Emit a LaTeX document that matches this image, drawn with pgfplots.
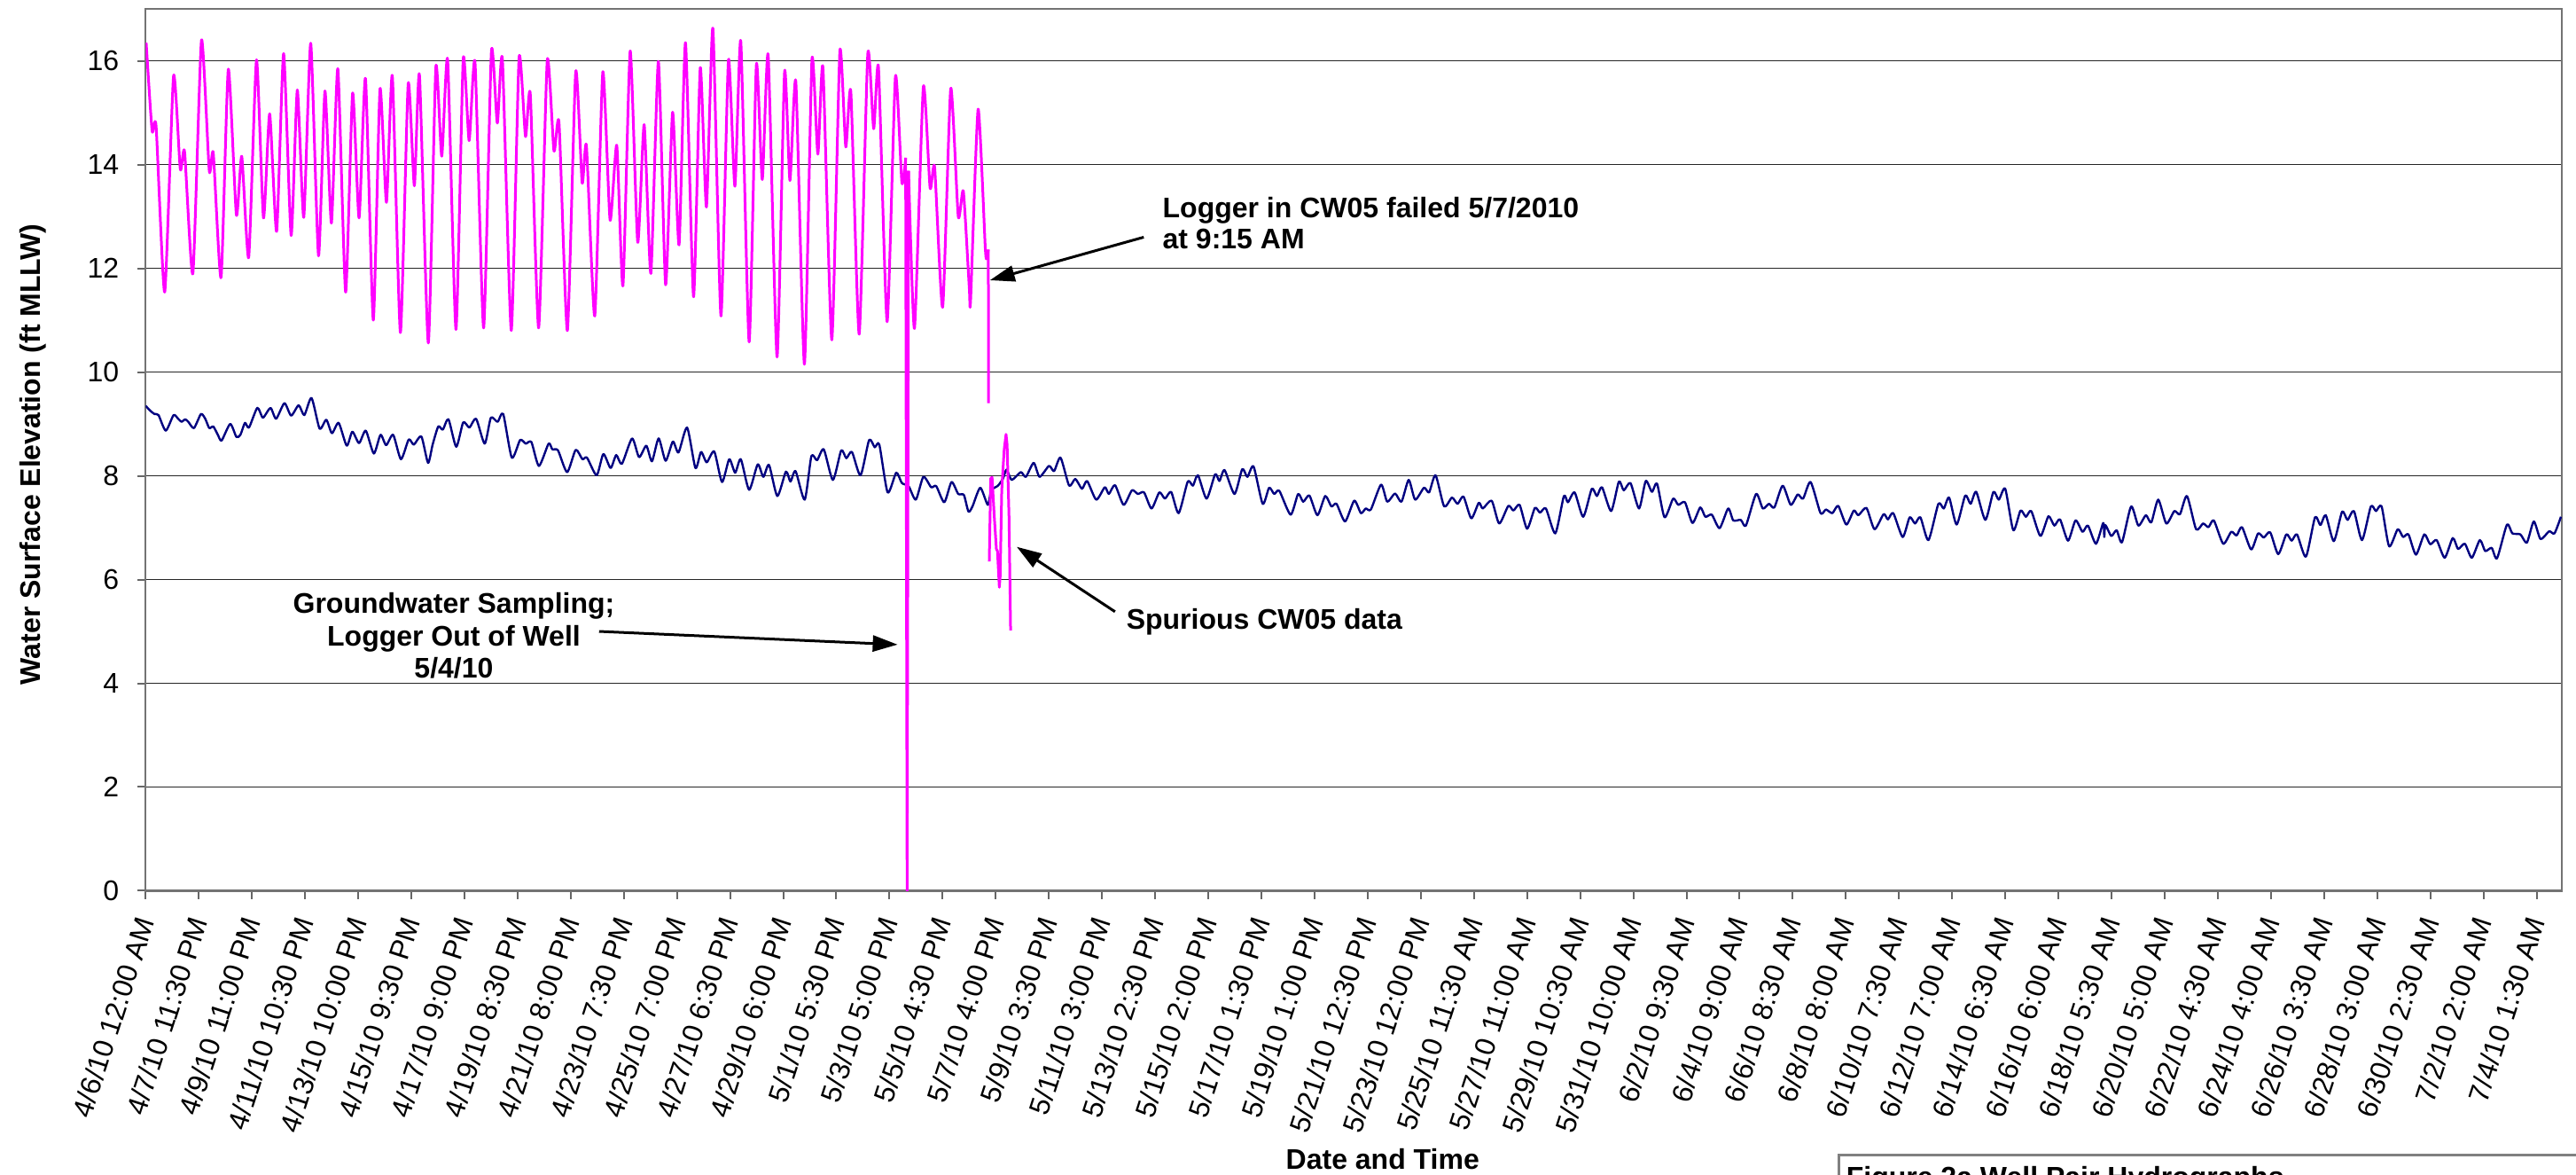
\documentclass[border=0pt]{standalone}
\usepackage{pgfplots}
\pgfplotsset{compat=1.18}
\usepackage{fontspec}
\setmainfont{Liberation Sans}
\usetikzlibrary{arrows.meta}
\definecolor{cwmag}{RGB}{255,0,255}
\definecolor{cwnavy}{RGB}{0,0,128}
\newcommand\lab{\fontsize{8}{9}\selectfont}
\begin{document}
\begin{tikzpicture}
\useasboundingbox (0,0) rectangle (726.5pt,331.25pt);
\clip (0,0) rectangle (726.5pt,331.25pt);
\begin{axis}[
  at={(41.075pt,80.125pt)}, anchor=south west,
  scale only axis, width=681.4pt, height=248.6pt,
  xmin=0, xmax=90, ymin=0, ymax=17,
  axis line style={draw=black!55, line width=0.6pt},
  ytick={0,2,...,16},
  xtick={0,1.9792,3.9583,5.9375,7.9167,9.8958,11.875,13.8542,15.8333,17.8125,19.7917,21.7708,23.75,25.7292,27.7083,29.6875,31.6667,33.6458,35.625,37.6042,39.5833,41.5625,43.5417,45.5208,47.5,49.4792,51.4583,53.4375,55.4167,57.3958,59.375,61.3542,63.3333,65.3125,67.2917,69.2708,71.25,73.2292,75.2083,77.1875,79.1667,81.1458,83.125,85.1042,87.0833,89.0625},
  xticklabels={4/6/10 12:00 AM,4/7/10 11:30 PM,4/9/10 11:00 PM,4/11/10 10:30 PM,4/13/10 10:00 PM,4/15/10 9:30 PM,4/17/10 9:00 PM,4/19/10 8:30 PM,4/21/10 8:00 PM,4/23/10 7:30 PM,4/25/10 7:00 PM,4/27/10 6:30 PM,4/29/10 6:00 PM,5/1/10 5:30 PM,5/3/10 5:00 PM,5/5/10 4:30 PM,5/7/10 4:00 PM,5/9/10 3:30 PM,5/11/10 3:00 PM,5/13/10 2:30 PM,5/15/10 2:00 PM,5/17/10 1:30 PM,5/19/10 1:00 PM,5/21/10 12:30 PM,5/23/10 12:00 PM,5/25/10 11:30 AM,5/27/10 11:00 AM,5/29/10 10:30 AM,5/31/10 10:00 AM,6/2/10 9:30 AM,6/4/10 9:00 AM,6/6/10 8:30 AM,6/8/10 8:00 AM,6/10/10 7:30 AM,6/12/10 7:00 AM,6/14/10 6:30 AM,6/16/10 6:00 AM,6/18/10 5:30 AM,6/20/10 5:00 AM,6/22/10 4:30 AM,6/24/10 4:00 AM,6/26/10 3:30 AM,6/28/10 3:00 AM,6/30/10 2:30 AM,7/2/10 2:00 AM,7/4/10 1:30 AM},
  tick pos=left, tick align=outside, major tick length=2.3pt,
  tick style={black!60, line width=0.5pt},
  xticklabel style={font=\lab, rotate=72, anchor=east, inner sep=0pt},
  xticklabel shift=5.2pt,
  yticklabel style={font=\lab, inner sep=0pt},
  yticklabel shift=5pt,
  /pgf/number format/assume math mode=true,
  ymajorgrids, major grid style={black!85, line width=0.4pt},
  xlabel={Date and Time},
  ylabel={Water Surface Elevation (ft MLLW)},
  xlabel style={at={(axis description cs:0.512,-0.304)}, anchor=center, font=\bfseries\lab},
  ylabel style={at={(axis description cs:-0.0467,0.495)}, anchor=center, font=\bfseries\lab},
]
% CW (navy) series
\addplot[cwnavy, line width=0.6pt, line join=round, smooth, tension=0.4] coordinates {
(0,9.35)(0.16,9.26)(0.33,9.19)(0.48,9.17)(0.75,8.87)(1.04,9.17)(1.21,9.10)(1.34,9.04)(1.47,9.09)(1.59,9.04)
(1.80,8.92)(2.06,9.19)(2.22,9.10)(2.37,8.92)(2.52,8.95)(2.69,8.79)(2.83,8.68)(3.15,9.00)(3.38,8.75)(3.53,8.79)
(3.70,9.02)(3.85,8.93)(4.16,9.31)(4.37,9.12)(4.65,9.31)(4.86,9.10)(5.17,9.40)(5.42,9.16)(5.70,9.36)(5.91,9.17)
(6.18,9.50)(6.48,8.91)(6.73,9.08)(6.94,8.82)(7.19,9.02)(7.49,8.58)(7.70,8.85)(7.95,8.63)(8.20,8.87)(8.50,8.43)
(8.75,8.79)(8.96,8.59)(9.22,8.79)(9.51,8.32)(9.80,8.70)(9.99,8.60)(10.27,8.76)(10.52,8.25)(10.69,8.60)(10.90,8.95)
(11.07,8.89)(11.28,9.09)(11.57,8.56)(11.83,9.03)(12.06,8.93)(12.31,9.10)(12.63,8.62)(12.86,9.12)(13.11,9.04)(13.32,9.19)
(13.64,8.35)(13.95,8.69)(14.16,8.62)(14.37,8.65)(14.65,8.19)(15.01,8.62)(15.15,8.51)(15.36,8.49)(15.70,8.07)(16.02,8.50)
(16.27,8.32)(16.44,8.35)(16.80,8.01)(17.05,8.42)(17.32,8.15)(17.53,8.40)(17.74,8.23)(18.12,8.72)(18.38,8.36)(18.65,8.58)
(18.86,8.28)(19.11,8.72)(19.37,8.29)(19.64,8.66)(19.85,8.45)(20.17,8.93)(20.48,8.15)(20.69,8.46)(20.90,8.26)(21.18,8.47)
(21.47,7.88)(21.74,8.32)(21.96,8.06)(22.17,8.32)(22.48,7.73)(22.80,8.22)(23.01,7.98)(23.22,8.21)(23.53,7.61)(23.85,8.08)
(24.02,7.89)(24.21,8.09)(24.55,7.54)(24.80,8.38)(25.01,8.30)(25.26,8.51)(25.60,7.92)(25.91,8.49)(26.10,8.34)(26.31,8.46)
(26.63,8.01)(26.95,8.69)(27.16,8.55)(27.33,8.60)(27.64,7.68)(27.96,8.06)(28.17,7.86)(28.42,7.80)(28.69,7.54)(28.97,7.98)
(29.26,7.78)(29.45,7.80)(29.75,7.49)(30.02,7.88)(30.27,7.65)(30.48,7.63)(30.65,7.31)(30.80,7.41)
(31.09,7.77)(31.37,7.44)(31.50,7.72)(31.75,7.81)(31.94,7.95)(32.07,8.12)(32.26,7.92)(32.60,8.07)(32.79,7.98)(33.08,8.25)
(33.30,7.98)(33.65,8.19)(33.84,8.09)(34.08,8.35)(34.40,7.81)(34.63,7.94)(34.88,7.75)(35.07,7.90)(35.41,7.54)(35.73,7.78)
(35.88,7.65)(36.11,7.82)(36.43,7.44)(36.74,7.72)(36.96,7.65)(37.19,7.68)(37.47,7.37)(37.76,7.68)(37.97,7.56)(38.20,7.69)
(38.48,7.28)(38.82,7.89)(39.01,7.81)(39.20,8.01)(39.52,7.56)(39.84,8.03)(40.00,7.90)(40.19,8.11)(40.56,7.65)(40.85,8.13)
(41.04,7.98)(41.27,8.18)(41.61,7.46)(41.85,7.77)(42.04,7.65)(42.23,7.71)(42.65,7.25)(42.93,7.65)(43.12,7.50)(43.35,7.62)
(43.65,7.24)(43.94,7.61)(44.17,7.41)(44.36,7.46)(44.68,7.12)(45.02,7.52)(45.27,7.28)(45.45,7.37)(45.64,7.35)(46.02,7.83)
(46.25,7.50)(46.54,7.66)(46.78,7.50)(47.05,7.92)(47.29,7.54)(47.62,7.77)(47.81,7.68)(48.05,8.01)(48.37,7.41)(48.66,7.58)
(48.87,7.46)(49.09,7.60)(49.38,7.18)(49.66,7.48)(49.81,7.37)(50.14,7.52)(50.42,7.08)(50.76,7.42)(50.95,7.33)(51.18,7.44)
(51.46,6.98)(51.75,7.38)(51.94,7.29)(52.16,7.37)(52.51,6.89)(52.83,7.61)(52.98,7.49)(53.23,7.68)(53.55,7.21)(53.87,7.75)
(54.06,7.61)(54.25,7.78)(54.59,7.32)(54.88,7.89)(55.06,7.72)(55.31,7.86)(55.63,7.37)(55.88,7.90)(56.11,7.69)(56.30,7.85)
(56.58,7.20)(56.90,7.56)(57.09,7.44)(57.34,7.49)(57.62,7.09)(57.91,7.39)(58.10,7.21)(58.34,7.25)(58.63,6.99)(58.95,7.37)
(59.14,7.14)(59.42,7.15)(59.61,7.04)(59.99,7.65)(60.24,7.37)
(60.47,7.46)(60.67,7.39)(60.98,7.81)(61.28,7.44)(61.54,7.64)(61.74,7.56)(62.02,7.88)(62.39,7.28)(62.59,7.35)(62.83,7.28)
(63.05,7.42)(63.35,7.06)(63.63,7.33)(63.80,7.24)(64.10,7.38)(64.40,6.97)(64.74,7.26)(64.90,7.16)(65.10,7.28)(65.45,6.82)
(65.71,7.20)(65.91,7.08)(66.11,7.20)(66.41,6.76)(66.78,7.46)(66.98,7.37)(67.18,7.58)(67.46,7.06)(67.78,7.62)(67.98,7.46)
(68.19,7.69)(68.53,7.15)(68.83,7.69)(69.03,7.54)(69.27,7.75)(69.57,6.95)(69.84,7.33)(70.04,7.21)(70.24,7.32)(70.58,6.84)
(70.88,7.22)(71.10,7.04)(71.31,7.16)(71.61,6.75)(71.89,7.14)(72.15,6.92)(72.35,7.04)(72.65,6.69)(72.92,7.09)(72.96,6.82)
(73.00,7.05)(73.22,6.84)(73.42,6.95)(73.62,6.72)(73.96,7.41)(74.23,7.04)(74.51,7.24)(74.71,7.10)(74.97,7.54)(75.27,7.08)
(75.57,7.32)(75.78,7.26)(76.04,7.61)(76.38,6.97)(76.64,7.08)(76.84,7.01)(77.04,7.14)(77.39,6.69)(77.69,6.92)(77.89,6.85)
(78.09,7.01)(78.43,6.58)(78.69,6.89)(78.90,6.81)(79.14,6.91)(79.44,6.49)(79.74,6.87)(79.94,6.75)(80.14,6.87)(80.47,6.44)
(80.81,7.20)(81.01,7.05)(81.21,7.24)(81.51,6.74)(81.82,7.31)(82.02,7.15)(82.26,7.32)(82.56,6.76)(82.89,7.41)(83.08,7.32)
(83.29,7.41)(83.57,6.64)(83.89,6.97)(84.09,6.82)(84.29,6.87)(84.57,6.48)(84.88,6.87)(85.10,6.68)(85.34,6.76)(85.64,6.42)
(85.94,6.80)(86.14,6.59)(86.39,6.69)(86.65,6.42)(86.95,6.76)(87.15,6.55)(87.39,6.61)(87.59,6.41)(87.96,7.06)(88.16,6.89)
(88.46,6.87)(88.70,6.71)(88.96,7.12)(89.21,6.78)(89.53,6.93)(89.73,6.89)(89.97,7.21)
};
% CW05 (magenta) series, before the sampling gap
\addplot[cwmag, line width=0.75pt, line join=round, smooth, tension=0.35] coordinates {
(0.02,16.35)(0.24,14.65)(0.39,14.74)(0.71,11.54)(1.04,15.71)(1.29,13.91)(1.45,14.25)(1.76,11.90)(2.08,16.40)(2.37,13.88)
(2.52,14.22)(2.81,11.82)(3.08,15.84)(3.38,13.03)(3.58,14.16)(3.84,12.21)(4.13,16.02)(4.39,12.97)(4.62,14.98)(4.88,12.71)
(5.14,16.14)(5.42,12.63)(5.65,15.44)(5.89,12.98)(6.15,16.34)(6.44,12.24)(6.68,15.42)(6.92,12.87)(7.16,15.85)(7.45,11.54)
(7.71,15.38)(7.95,12.97)(8.19,15.66)(8.48,11.00)(8.73,15.46)(8.97,13.27)(9.19,15.71)(9.49,10.76)(9.78,15.56)(10.01,13.59)
(10.20,15.73)(10.53,10.56)(10.81,15.88)(11.03,14.16)(11.25,16.02)(11.56,10.82)(11.83,16.04)(12.05,14.46)(12.27,15.97)(12.59,10.85)
(12.88,16.19)(13.10,14.80)(13.29,16.03)(13.62,10.80)(13.91,16.06)(14.15,14.54)(14.33,15.35)(14.64,10.85)(14.96,16.01)(15.21,14.26)
(15.40,14.80)(15.71,10.80)(16.02,15.79)(16.26,13.65)(16.42,14.36)(16.73,11.08)(17.03,15.79)(17.30,12.93)(17.55,14.37)(17.78,11.66)
(18.05,16.19)(18.33,12.50)(18.57,14.77)(18.82,11.90)(19.10,15.99)(19.37,11.68)(19.63,15.01)(19.87,12.45)(20.11,16.35)(20.41,11.45)
(20.66,15.87)(20.89,13.18)(21.13,16.63)(21.43,11.08)(21.71,16.02)(21.95,13.58)(22.17,16.38)(22.48,10.58)(22.75,15.93)(22.97,13.71)
(23.19,16.11)(23.52,10.29)(23.80,15.79)(24.00,13.69)(24.22,15.60)(24.54,10.15)(24.82,16.03)(25.04,14.20)(25.23,15.87)(25.56,10.62)
(25.86,16.19)(26.08,14.34)(26.27,15.40)(26.58,10.73)(26.90,16.14)(27.12,14.69)(27.30,15.87)(27.62,10.97)(27.93,15.70)(28.17,13.65)
(28.31,14.13)
};
% logger out of well (drop to zero)
\addplot[cwmag, line width=0.75pt, line join=round] coordinates {
(28.31,14.13)(28.365,0)(28.42,13.88)
};
% CW05 after sampling, until logger failure
\addplot[cwmag, line width=0.75pt, line join=round, smooth, tension=0.35] coordinates {
(28.42,13.88)(28.64,10.84)(28.97,15.50)(29.22,13.55)(29.39,13.95)(29.69,11.25)(29.99,15.47)(30.27,13.00)
(30.46,13.49)(30.68,11.63)(30.73,11.38)(31.01,15.07)(31.28,12.36)(31.34,12.21)(31.39,12.36)
};
\addplot[cwmag, line width=0.75pt] coordinates {(31.39,12.36)(31.40,9.40)};
% spurious CW05 data
\addplot[cwmag, line width=0.75pt, line join=round] coordinates {
(31.425,6.35)(31.48,7.95)(31.53,7.97)(31.61,7.23)(31.69,6.59)(31.73,6.55)(31.80,5.85)(31.83,6.05)(31.89,7.72)(31.98,8.50)
(32.05,8.80)(32.09,8.60)(32.16,7.23)(32.22,5.02)
};
% annotations
\node[anchor=north west, inner sep=0pt, align=left, font=\bfseries\fontsize{8}{8.9}\selectfont] at (axis cs:37.86,13.39) {Logger in CW05 failed 5/7/2010\\at 9:15 AM};
\draw[black, line width=0.75pt, -{Triangle[length=7pt,width=4.5pt]}] (axis cs:37.18,12.60) -- (axis cs:31.45,11.77);
\node[anchor=north, inner sep=0pt, align=center, font=\bfseries\fontsize{8}{9.1}\selectfont] at (axis cs:11.48,5.755) {Groundwater Sampling;\\Logger Out of Well\\5/4/10};
\draw[black, line width=0.75pt, -{Triangle[length=7pt,width=4.5pt]}] (axis cs:16.89,5.00) -- (axis cs:28.01,4.746);
\node[anchor=north west, inner sep=0pt, font=\bfseries\lab] at (axis cs:36.51,5.447) {Spurious CW05 data};
\draw[black, line width=0.75pt, -{Triangle[length=7pt,width=4.5pt]}] (axis cs:36.11,5.38) -- (axis cs:32.45,6.63);
\end{axis}
\draw[black!50, line width=0.75pt] (518.5pt,5.5pt) rectangle (745pt,-20pt);
\node[anchor=north west, inner sep=0pt, font=\bfseries\lab] at (520.5pt,2.5pt) {Figure 2a Well Pair Hydrographs};
\end{tikzpicture}
\end{document}
